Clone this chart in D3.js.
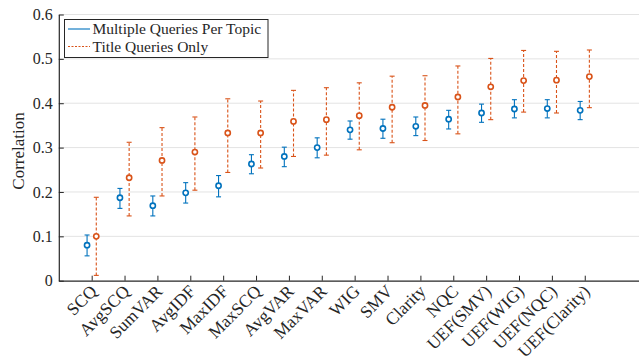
<!DOCTYPE html>
<html><head><meta charset="utf-8">
<script src="https://cdn.jsdelivr.net/npm/d3@7"></script>
<style>body{margin:0;background:#fff}svg{display:block}</style>
</head><body>
<svg id="c" width="639" height="360"></svg>
<script>
const categories = ["SCQ","AvgSCQ","SumVAR","AvgIDF","MaxIDF","MaxSCQ","AvgVAR","MaxVAR","WIG","SMV","Clarity","NQC","UEF(SMV)","UEF(WIG)","UEF(NQC)","UEF(Clarity)"];
const multiMean = [0.080,0.187,0.169,0.198,0.214,0.263,0.280,0.300,0.340,0.343,0.348,0.364,0.378,0.387,0.388,0.384];
const multiLow  = [0.056,0.163,0.146,0.175,0.189,0.241,0.257,0.277,0.319,0.321,0.327,0.342,0.357,0.367,0.367,0.363];
const multiHigh = [0.103,0.208,0.191,0.221,0.237,0.284,0.301,0.322,0.360,0.364,0.369,0.384,0.398,0.408,0.408,0.404];
const titleMean = [0.100,0.232,0.271,0.290,0.333,0.333,0.359,0.363,0.372,0.391,0.395,0.414,0.437,0.451,0.452,0.460];
const titleLow  = [0.012,0.146,0.191,0.204,0.244,0.254,0.280,0.283,0.295,0.311,0.316,0.331,0.363,0.380,0.378,0.390];
const titleHigh = [0.188,0.312,0.345,0.369,0.410,0.405,0.429,0.435,0.446,0.461,0.462,0.484,0.501,0.519,0.517,0.520];
const yTicks = [0,0.1,0.2,0.3,0.4,0.5,0.6];
const seriesNames = ["Multiple Queries Per Topic","Title Queries Only"];

const FONT = "'Liberation Serif', 'DejaVu Serif', serif";
const svg = d3.select("#c");
const x = d3.scaleLinear().domain([0, 17.65]).range([58.8, 639]);
const y = d3.scaleLinear().domain([0, 0.6]).range([280.7, 14.5]);
const blue = "#0072BD", orange = "#D95319", axc = "#262626";
const off = 0.14;

// gridlines
svg.append("g").selectAll("line").data(yTicks.slice(1)).join("line")
  .attr("x1", x(0)).attr("x2", 639).attr("y1", d=>y(d)).attr("y2", d=>y(d))
  .attr("stroke", "#e3e3e3").attr("stroke-width", 1);

// y axis
const ya = svg.append("g").attr("transform", `translate(${x(0)},0)`)
  .call(d3.axisLeft(y).tickValues(yTicks).tickFormat(d=>d===0?"0":d3.format(".1f")(d)).tickSizeInner(-5).tickSizeOuter(0).tickPadding(6));
ya.attr("font-family", null);
ya.select(".domain").attr("stroke", axc).attr("stroke-width", 1.2);
ya.selectAll(".tick line").attr("stroke", axc);
ya.selectAll("text").style("font-family", FONT).style("font-size","16px").attr("fill", axc);

// x axis
const xa = svg.append("g").attr("transform", `translate(0,${y(0)})`)
  .call(d3.axisBottom(x).tickValues(d3.range(1, categories.length+1)).tickFormat(i=>categories[i-1]).tickSizeInner(-5).tickSizeOuter(0));
xa.attr("font-family", null);
xa.select(".domain").attr("stroke", axc).attr("stroke-width", 1.2);
xa.selectAll(".tick line").attr("stroke", axc);
xa.selectAll(".tick text").style("font-family", FONT).style("font-size","17.5px").attr("fill", axc)
  .attr("text-anchor","end").attr("y", 0).attr("dy", "0.3em")
  .attr("transform","translate(2,8) rotate(-45)");

// error bars
function drawSeries(mean, lo, hi, col, dx, dash) {
  const g = svg.append("g");
  const idx = d3.range(mean.length);
  g.selectAll("line.v").data(idx).join("line").attr("class","v")
    .attr("x1", i=>x(i+1+dx)).attr("x2", i=>x(i+1+dx))
    .attr("y1", i=>y(lo[i])).attr("y2", i=>y(hi[i]))
    .attr("stroke", col).attr("stroke-width", 1.1).attr("stroke-dasharray", dash);
  [lo, hi].forEach(arr => {
    g.selectAll(null).data(idx).join("line")
      .attr("x1", i=>x(i+1+dx)-2.5).attr("x2", i=>x(i+1+dx)+2.5)
      .attr("y1", i=>y(arr[i])).attr("y2", i=>y(arr[i]))
      .attr("stroke", col).attr("stroke-width", 1.1);
  });
  g.selectAll("circle").data(idx).join("circle")
    .attr("cx", i=>x(i+1+dx)).attr("cy", i=>y(mean[i])).attr("r", 2.6)
    .attr("fill","#fff").attr("stroke", col).attr("stroke-width", 1.6);
}
drawSeries(multiMean, multiLow, multiHigh, blue, -off, null);
drawSeries(titleMean, titleLow, titleHigh, orange, off, "3,2");

// legend
const lg = svg.append("g");
lg.append("rect").attr("x", 64.5).attr("y", 19.5).attr("width", 203.5).attr("height", 38)
  .attr("fill","#fff").attr("stroke", axc).attr("stroke-width", 1);
seriesNames.forEach((n, k) => {
  const yy = 29 + k*17.5;
  lg.append("line").attr("x1", 68).attr("x2", 90).attr("y1", yy).attr("y2", yy)
    .attr("stroke", k===0?blue:orange).attr("stroke-width", 1.1).attr("stroke-dasharray", k===0?null:"2,1.5");
  lg.append("text").attr("x", 92.5).attr("y", yy).attr("dy","0.33em")
    .style("font-family", FONT).style("font-size","15.5px").attr("fill", axc).text(n);
});

// y label
svg.append("text").attr("transform", `translate(24,151) rotate(-90)`)
  .attr("text-anchor","middle").style("font-family", FONT).style("font-size","17px").attr("fill", axc).text("Correlation");
</script>
</body></html>
